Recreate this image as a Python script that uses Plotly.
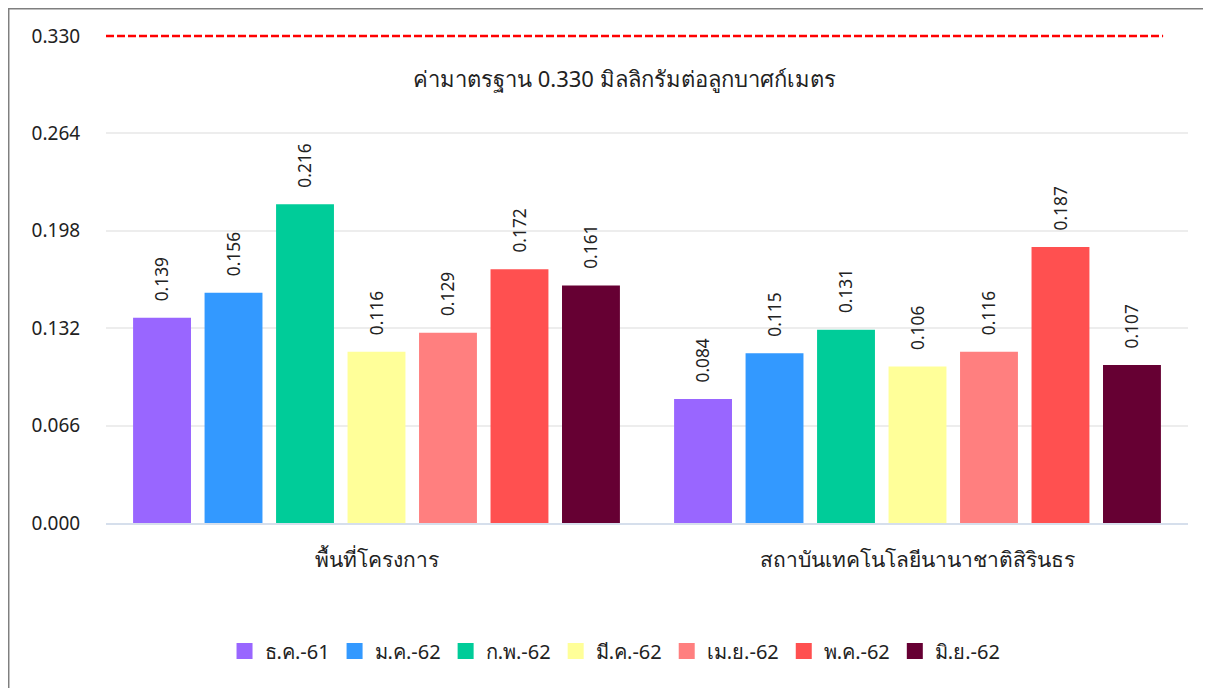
import plotly.graph_objects as go

sites = ["พื้นที่โครงการ", "สถาบันเทคโนโลยีนานาชาติสิรินธร"]
months = ["ธ.ค.-61", "ม.ค.-62", "ก.พ.-62", "มี.ค.-62", "เม.ย.-62", "พ.ค.-62", "มิ.ย.-62"]
values = [
    [0.139, 0.084],
    [0.156, 0.115],
    [0.216, 0.131],
    [0.116, 0.106],
    [0.129, 0.116],
    [0.172, 0.187],
    [0.161, 0.107],
]
colors = ["#9966FF", "#3399FF", "#00CC99", "#FFFF99", "#FF7F7F", "#FF5050", "#660033"]
standard = 0.330
y_ticks = [0.000, 0.066, 0.132, 0.198, 0.264, 0.330]
y_range = [0, 0.330]

font = "Noto Sans, sans-serif"

fig = go.Figure()
for name, vals, col in zip(months, values, colors):
    fig.add_trace(go.Bar(
        x=sites, y=vals, name=name, marker_color=col, marker_line_width=0, showlegend=False,
        texttemplate="\u00a0\u00a0\u00a0%{y:.3f}", textposition="outside", textangle=-90,
        textfont=dict(size=19, color="#222222"), cliponaxis=False,
    ))
# legend entries with bigger square swatches
for name, col in zip(months, colors):
    fig.add_trace(go.Scatter(x=[None], y=[None], name=name, mode="markers",
                             marker=dict(symbol="square", size=16, color=col)))

# standard limit line (paper refs so it is not clipped at the plot top) + caption
y_std = (standard - y_range[0]) / (y_range[1] - y_range[0])
fig.add_shape(type="line", xref="paper", yref="paper", x0=0, x1=0.977, y0=y_std, y1=y_std,
              line=dict(color="#FF0000", width=2.5, dash="8px,3px"))
fig.add_annotation(text=f"ค่ามาตรฐาน {standard:.3f} มิลลิกรัมต่อลูกบาศก์เมตร", xref="paper", yref="y",
                   x=0.479, y=0.3015, showarrow=False, font=dict(size=22, color="#222222"))
# outer frame (only top/left fall inside the page)
fig.add_shape(type="rect", xref="paper", yref="paper", x0=-0.0899, x1=1.05, y0=-0.4, y1=1.056,
              line=dict(color="#7F7F7F", width=1.5), fillcolor="rgba(0,0,0,0)", layer="below")

fig.update_layout(
    width=1203, height=680, barmode="group", bargap=0.075, bargroupgap=0.19,
    margin=dict(l=98, r=23, t=28, b=165),
    plot_bgcolor="white", paper_bgcolor="white",
    font=dict(family=font, size=18, color="#222222"),
    legend=dict(orientation="h", xref="container", yref="container", x=0.5046, y=0.0544,
                xanchor="center", yanchor="middle", font=dict(size=20), itemwidth=30),
)
fig.update_xaxes(showgrid=False, showline=True, linecolor="#D6DFEC", linewidth=2,
                 tickfont=dict(size=21), ticks="outside", ticklen=17, tickcolor="rgba(0,0,0,0)")
fig.update_yaxes(range=y_range, tickvals=y_ticks, tickformat=".3f", showgrid=True,
                 gridcolor="#EDEDED", gridwidth=2, zeroline=False, ticks="outside", ticklen=21,
                 tickcolor="rgba(0,0,0,0)", tickfont=dict(size=19))

fig.write_html("out.html")
